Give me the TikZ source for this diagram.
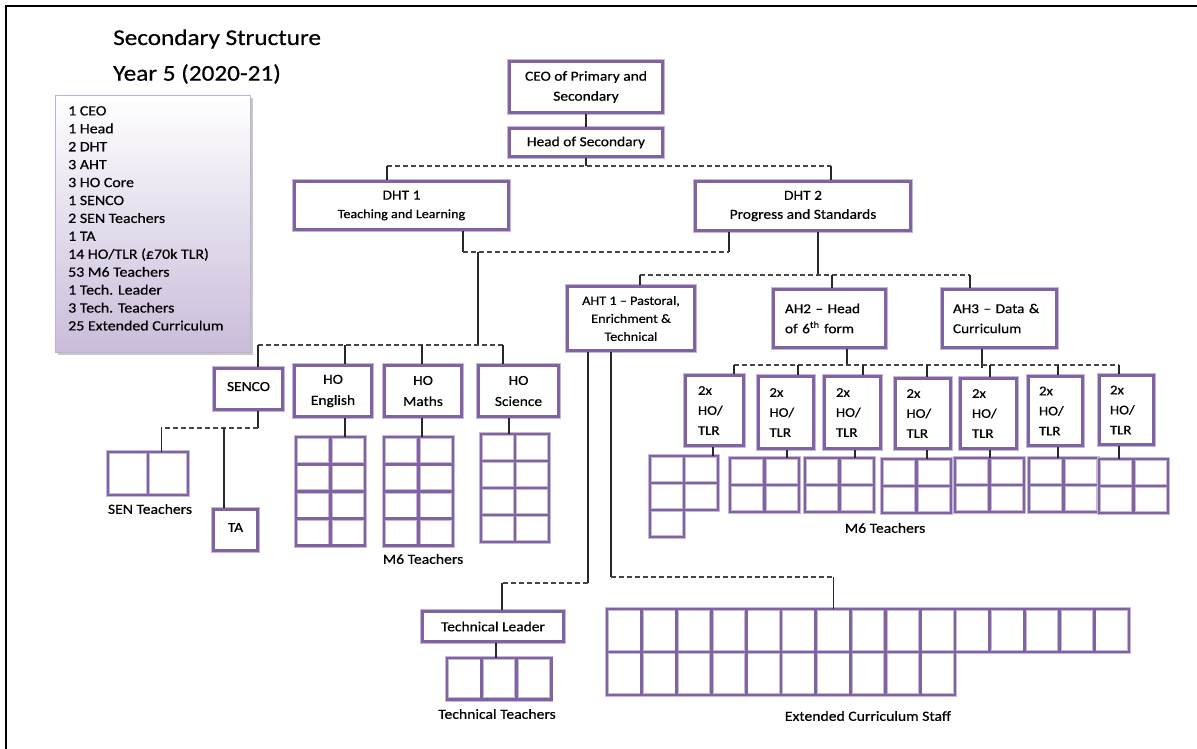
\documentclass[tikz,border=0pt]{standalone}
\usepackage{fontspec}
\setmainfont{Carlito}[FakeStretch=1.12, FakeBold=0.5]
\usetikzlibrary{calc}

\definecolor{purp}{RGB}{128,100,162}
\definecolor{purphalo}{RGB}{196,184,214}
\definecolor{lav}{RGB}{201,188,218}
\definecolor{legendline}{RGB}{190,176,210}
\definecolor{wire}{RGB}{40,40,40}
\definecolor{dashwire}{RGB}{70,70,70}

\tikzset{
  orgbox/.style={draw=purp, line width=2.8pt, fill=white, inner sep=0pt, align=center,
                 preaction={draw=purphalo, line width=4.2pt},
                 font=\fontsize{13.8}{20}\selectfont},
  tlrbox/.style={orgbox, text width=33pt, align=left, font=\fontsize{13.2}{20}\selectfont},
  cellhalo/.style={draw=purphalo, line width=4.2pt},
  cellbox/.style={draw=purp, line width=2.8pt},
  gridframe/.style={draw=none, inner sep=0pt},
  wire/.style={draw=wire, line width=1.2pt},
  bus/.style={draw=dashwire, line width=1.2pt, dash pattern=on 5pt off 3pt},
  lbl/.style={inner sep=0pt, font=\fontsize{14}{16}\selectfont},
  titletext/.style={inner sep=0pt, anchor=west, font=\fontsize{22.5}{27}\selectfont},
}

% grid of staff cells: name, left, top, cell width, cell height, columns, rows
\newcommand\staffgrid[7]{%
  \node[gridframe, anchor=north west, minimum width={#4*#6}, minimum height={#5*#7}] (#1) at (#2,#3) {};
  \foreach \gs in {cellhalo,cellbox}{%
    \foreach \gc in {1,...,#6}{\foreach \gr in {1,...,#7}{%
      \draw[\gs] ({#2+(\gc-1)*#4},{#3+(\gr-1)*#5}) rectangle ++(#4,#5);}}}%
}

\begin{document}
\begin{tikzpicture}[x=1pt,y=-1pt]
\useasboundingbox (0,0) rectangle (1197,749);

% page edge
\draw[line width=2.2pt] (6,749) -- (6,6) -- (1197,6);

% title
\node[titletext] (title1) at (113,39) {Secondary Structure};
\node[titletext] (title2) at (113,74) {Year 5 (2020-21)};

% head-count panel
\fill[black!22] (58,98) rectangle (253,355);
\node[draw=legendline, line width=0.9pt, top color=white, bottom color=lav,
      anchor=north west, minimum width=195, minimum height=257, inner sep=0pt] (legend) at (55,95) {};
\node[anchor=north west, align=left, inner sep=0pt, font=\fontsize{14.2}{17.92}\selectfont] (legendtext) at (68,106)
  {1 CEO\\1 Head\\2 DHT\\3 AHT\\3 HO Core\\1 SENCO\\2 SEN Teachers\\1 TA\\14 HO/TLR (£70k TLR)\\53 M6 Teachers\\1 Tech. Leader\\3 Tech. Teachers\\25 Extended Curriculum};

% leadership boxes
\node[orgbox, minimum width=153, minimum height=51] (ceo) at (586,87) {CEO of Primary and\\Secondary};
\node[orgbox, minimum width=153, minimum height=28] (head) at (586,142.5) {Head of Secondary};
\node[orgbox, minimum width=214, minimum height=48, font=\fontsize{13.8}{18.5}\selectfont] (dht1) at (401.5,205.5)
  {DHT 1\\{\fontsize{12.6}{18.5}\selectfont Teaching and Learning}};
\node[orgbox, minimum width=215, minimum height=49, font=\fontsize{13.8}{19}\selectfont] (dht2) at (803,206)
  {DHT 2\\Progress and Standards};
\node[orgbox, minimum width=127, minimum height=64, font=\fontsize{12.7}{18}\selectfont] (aht1) at (631,318.5)
  {AHT 1 – Pastoral,\\Enrichment \&\\Technical};
\node[orgbox, minimum width=112, minimum height=58, text width=89pt, align=left, font=\fontsize{13.6}{20}\selectfont] (ah2) at (829.5,318.5)
  {AH2 – Head\\of 6\textsuperscript{th} form};
\node[orgbox, minimum width=114, minimum height=58, text width=93pt, align=left, font=\fontsize{13.6}{20}\selectfont] (ah3) at (999.5,318.5)
  {AH3 – Data \&\\Curriculum};

% DHT 1 line
\node[orgbox, minimum width=68, minimum height=41] (senco) at (248.5,389) {\raisebox{5pt}{SENCO}};
\node[orgbox, minimum width=77, minimum height=51, font=\fontsize{13.8}{21}\selectfont] (hoeng) at (333,391) {HO\\English};
\node[orgbox, minimum width=77, minimum height=51, font=\fontsize{13.8}{21}\selectfont] (homath) at (423,391) {HO\\Maths};
\node[orgbox, minimum width=80, minimum height=51, font=\fontsize{13.8}{21}\selectfont] (hosci) at (518.5,391) {HO\\Science};
\node[orgbox, minimum width=44, minimum height=41] (ta) at (235.5,530) {\raisebox{5pt}{TA}};
\node[orgbox, minimum width=141, minimum height=30] (techlead) at (493,626.5) {Technical Leader};

% heads of department / TLR holders
\node[tlrbox, minimum width=58, minimum height=70] (b1) at (714.5,410.5) {2x\\HO/\\TLR};
\node[tlrbox, minimum width=55, minimum height=72] (b2) at (786,412.5) {2x\\HO/\\TLR};
\node[tlrbox, minimum width=56, minimum height=72] (b3) at (852.5,412.5) {2x\\HO/\\TLR};
\node[tlrbox, minimum width=55, minimum height=70] (b4) at (923,413.5) {2x\\HO/\\TLR};
\node[tlrbox, minimum width=56, minimum height=70] (b5) at (988.5,413.5) {2x\\HO/\\TLR};
\node[tlrbox, minimum width=54, minimum height=69] (b6) at (1055.5,411) {2x\\HO/\\TLR};
\node[tlrbox, minimum width=54, minimum height=69] (b7) at (1126.5,410) {2x\\HO/\\TLR};

% staff grids
\staffgrid{sengrid}{108}{452}{40}{43}{2}{1}
\staffgrid{enggrid}{296}{437}{34.5}{27.2}{2}{4}
\staffgrid{mathgrid}{384}{437}{34.5}{27.2}{2}{4}
\staffgrid{scigrid}{481}{434}{34}{27}{2}{4}
\staffgrid{g2}{730}{458}{34.5}{27}{2}{2}
\staffgrid{g3}{805}{458}{34.5}{27}{2}{2}
\staffgrid{g4}{882}{459}{34.5}{27}{2}{2}
\staffgrid{g5}{955}{458}{34.5}{27}{2}{2}
\staffgrid{g6}{1029}{458}{34.5}{27}{2}{2}
\staffgrid{g7}{1099}{459}{34.5}{27}{2}{2}
\staffgrid{techgrid}{447}{658}{34.7}{41.5}{3}{1}

% first TLR group: five teachers
\node[gridframe, anchor=north west, minimum width=68, minimum height=81] (g1) at (650,456) {};
\foreach \gs in {cellhalo,cellbox}
  \foreach \gx/\gy in {0/0,1/0,0/1,1/1,0/2}
    \draw[\gs] ({650+\gx*34},{456+\gy*27}) rectangle ++(34,27);

% extended curriculum staff: 15 + 10
\node[gridframe, anchor=north west, minimum width=522, minimum height=86] (ext) at (607,609) {};
\foreach \gs in {cellhalo,cellbox}{
  \foreach \gx in {0,...,14}
    \draw[\gs] ({607+\gx*34.8},609) rectangle ++(34.8,43);
  \foreach \gx in {0,...,9}
    \draw[\gs] ({607+\gx*34.8},652) rectangle ++(34.8,43);
}

% group labels
\node[lbl] (lsen) at (150,509) {SEN Teachers};
\node[lbl] (lm6a) at (423,559) {M6 Teachers};
\node[lbl] (lm6b) at (885,528) {M6 Teachers};
\node[lbl] (ltech) at (497,714) {Technical Teachers};
\node[lbl] (lext) at (868,716) {Extended Curriculum Staff};

% ---------- connectors ----------
\draw[wire] (ceo.south) -- (head.north);

% Head of Secondary to the two deputies
\coordinate (busA) at (586,166);
\coordinate (hA) at ([xshift=-14.5pt]dht1.north);
\coordinate (hB) at ([xshift=28pt]dht2.north);
\draw[wire] (head.south) -- (head.south |- busA);
\draw[bus] (hA |- busA) -- (hB |- busA);
\draw[wire] (hA |- busA) -- (hA);
\draw[wire] (hB |- busA) -- (hB);

% deputies to SENCO and core heads
\coordinate (busB) at (478,252);
\coordinate (tA) at ([xshift=61.5pt]dht1.south);
\coordinate (tB) at ([xshift=-74pt]dht2.south);
\draw[wire] (tA) -- (tA |- busB);
\draw[wire] (tB) -- (tB |- busB);
\draw[bus] (tA |- busB) -- (tB |- busB);
\coordinate (busC) at (478,345);
\draw[wire] (busB) -- (busC);
\coordinate (cS) at ([xshift=9.5pt]senco.north);
\coordinate (cE) at ([xshift=12pt]hoeng.north);
\coordinate (cM) at ([xshift=-1pt]homath.north);
\coordinate (cC) at ([xshift=-15.5pt]hosci.north);
\draw[bus] (cS |- busC) -- (cC |- busC);
\foreach \cp in {cS,cE,cM,cC} \draw[wire] (\cp |- busC) -- (\cp);

% DHT 2 to the assistant heads
\coordinate (busD) at (818,275);
\draw[wire] ([xshift=15pt]dht2.south) -- (busD);
\coordinate (aA) at ([xshift=9pt]aht1.north);
\coordinate (aB) at ([xshift=2.5pt]ah2.north);
\coordinate (aC) at ([xshift=-29.5pt]ah3.north);
\draw[bus] (aA |- busD) -- (aC |- busD);
\foreach \cp in {aA,aB,aC} \draw[wire] (\cp |- busD) -- (\cp);

% AH2 / AH3 to the TLR holders
\coordinate (busE) at (900,365);
\coordinate (eA) at ([xshift=17.5pt]ah2.south);
\coordinate (eB) at ([xshift=-17.5pt]ah3.south);
\draw[wire] (eA) -- (eA |- busE);
\draw[wire] (eB) -- ($(eB |- busE)+(0,3)$);
\coordinate (k1) at ([xshift=19.5pt]b1.north);
\coordinate (k2) at ([xshift=12pt]b2.north);
\coordinate (k3) at ([xshift=10.5pt]b3.north);
\coordinate (k4) at ([xshift=4pt]b4.north);
\coordinate (k5) at ([xshift=1.5pt]b5.north);
\coordinate (k6) at ([xshift=2.5pt]b6.north);
\coordinate (k7) at ([xshift=-7.5pt]b7.north);
\draw[bus] (k1 |- busE) -- (k7 |- busE);
\foreach \cp in {k1,k2,k3,k4,k5,k6,k7} \draw[wire] (\cp |- busE) -- (\cp);

% TLR holders to their teachers
\coordinate (m1) at ([xshift=-1.5pt]b1.south);
\coordinate (m2) at ([xshift=1pt]b2.south);
\coordinate (m3) at ([xshift=2.5pt]b3.south);
\coordinate (m4) at ([xshift=4pt]b4.south);
\coordinate (m5) at ([xshift=1.5pt]b5.south);
\coordinate (m6) at ([xshift=2.5pt]b6.south);
\coordinate (m7) at ([xshift=-7.5pt]b7.south);
\draw[wire] (m1) -- (m1 |- g1.north);
\draw[wire] (m2) -- (m2 |- g2.north);
\draw[wire] (m3) -- (m3 |- g3.north);
\draw[wire] (m4) -- (m4 |- g4.north);
\draw[wire] (m5) -- (m5 |- g5.north);
\draw[wire] (m6) -- (m6 |- g6.north);
\draw[wire] (m7) -- (m7 |- g7.north);

% SENCO to SEN teachers and TA
\coordinate (busF) at (210,428);
\coordinate (sB) at ([xshift=9.5pt]senco.south);
\coordinate (sG) at ([xshift=13pt]sengrid.north);
\coordinate (sT) at ([xshift=-11.5pt]ta.north);
\draw[wire] (sB) -- (sB |- busF);
\draw[bus] (sB |- busF) -- (sG |- busF);
\draw[wire] (sG |- busF) -- (sG);
\draw[wire] (sT |- busF) -- (sT);

% core heads to their teachers
\coordinate (nE) at ([xshift=12pt]hoeng.south);
\coordinate (nM) at ([xshift=-1pt]homath.south);
\coordinate (nC) at ([xshift=-9.5pt]hosci.south);
\draw[wire] (nE) -- (nE |- enggrid.north);
\draw[wire] (nM) -- (nM |- mathgrid.north);
\draw[wire] (nC) -- (nC |- scigrid.north);

% AHT 1 to technical and extended curriculum staff
\coordinate (busG) at (550,583);
\coordinate (busH) at (700,577);
\coordinate (pL) at ([xshift=-43pt]aht1.south);
\coordinate (pR) at ([xshift=-20pt]aht1.south);
\coordinate (qL) at ([xshift=9pt]techlead.north);
\coordinate (qR) at ([xshift=-35pt]ext.north);
\draw[wire] (pL) -- (pL |- busG);
\draw[bus] (pL |- busG) -- (qL |- busG);
\draw[wire] (qL |- busG) -- (qL);
\draw[wire] (pR) -- (pR |- busH);
\draw[bus] (pR |- busH) -- (qR |- busH);
\draw[wire] (qR |- busH) -- (qR);
\coordinate (rT) at ([xshift=3pt]techlead.south);
\draw[wire] (rT) -- (rT |- techgrid.north);

\end{tikzpicture}
\end{document}
